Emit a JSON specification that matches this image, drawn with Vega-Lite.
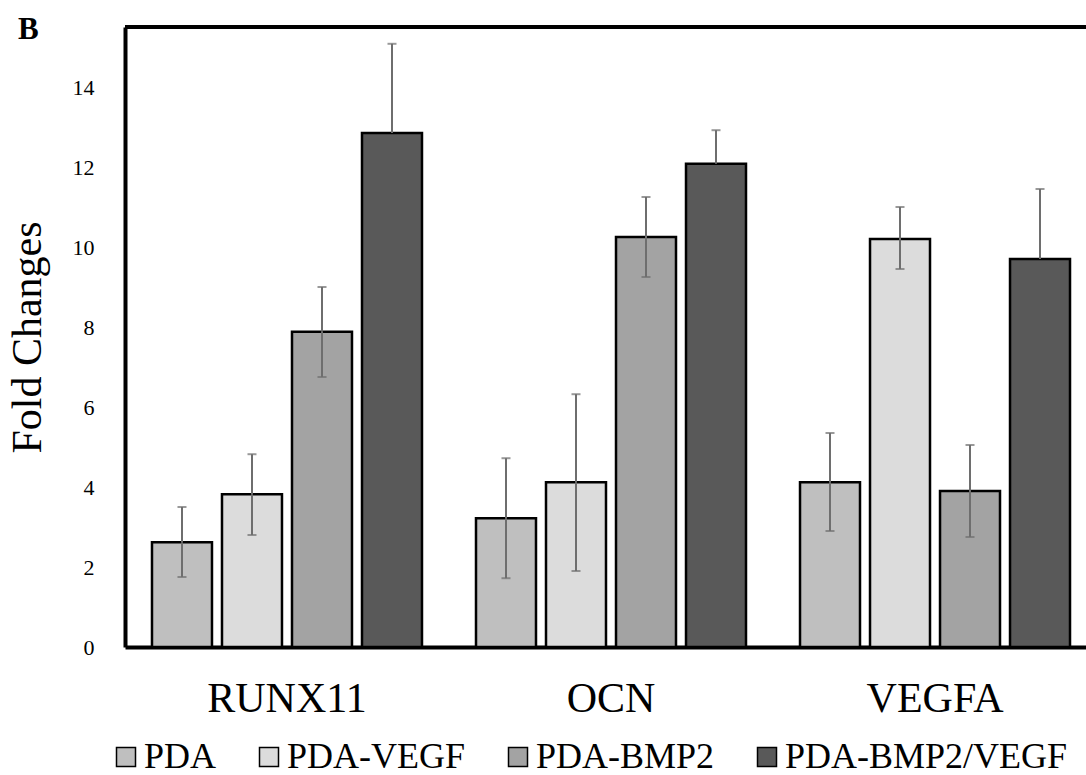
{
  "$schema": "https://vega.github.io/schema/vega-lite/v6.json",
  "width": 961,
  "height": 620,
  "autosize": {"type": "none"},
  "padding": {"left": 125, "top": 27, "right": 0, "bottom": 128},
  "background": "white",
  "title": {"text": "B", "anchor": "start", "frame": "group", "dx": -107, "dy": 45, "offset": 0, "baseline": "alphabetic", "font": "Liberation Serif", "fontSize": 31, "fontWeight": "bold", "color": "black"},
  "config": {
    "view": {"stroke": null},
    "font": "Liberation Serif"
  },
  "data": {"values": [
    {"gene": "RUNX11", "series": "PDA", "value": 2.62, "hi": 3.5, "lo": 1.75},
    {"gene": "RUNX11", "series": "PDA-VEGF", "value": 3.82, "hi": 4.82, "lo": 2.8},
    {"gene": "RUNX11", "series": "PDA-BMP2", "value": 7.88, "hi": 9.0, "lo": 6.75},
    {"gene": "RUNX11", "series": "PDA-BMP2/VEGF", "value": 12.85, "hi": 15.08, "lo": null},
    {"gene": "OCN", "series": "PDA", "value": 3.22, "hi": 4.72, "lo": 1.72},
    {"gene": "OCN", "series": "PDA-VEGF", "value": 4.12, "hi": 6.32, "lo": 1.9},
    {"gene": "OCN", "series": "PDA-BMP2", "value": 10.25, "hi": 11.25, "lo": 9.25},
    {"gene": "OCN", "series": "PDA-BMP2/VEGF", "value": 12.08, "hi": 12.92, "lo": null},
    {"gene": "VEGFA", "series": "PDA", "value": 4.12, "hi": 5.35, "lo": 2.9},
    {"gene": "VEGFA", "series": "PDA-VEGF", "value": 10.2, "hi": 11.0, "lo": 9.45},
    {"gene": "VEGFA", "series": "PDA-BMP2", "value": 3.9, "hi": 5.05, "lo": 2.75},
    {"gene": "VEGFA", "series": "PDA-BMP2/VEGF", "value": 9.7, "hi": 11.45, "lo": null}
  ]},
  "encoding": {
    "x": {"field": "gene", "type": "nominal", "sort": ["RUNX11", "OCN", "VEGFA"],
      "scale": {"range": [0, 972], "paddingInner": 0.1667, "paddingOuter": 0.0833},
      "axis": {"title": null, "labelAngle": 0, "ticks": false, "domainColor": "black", "domainWidth": 4,
        "labelFont": "Liberation Serif", "labelFontSize": 42, "labelColor": "black", "labelBaseline": "alphabetic", "labelPadding": 64}},
    "xOffset": {"field": "series", "type": "nominal", "sort": ["PDA", "PDA-VEGF", "PDA-BMP2", "PDA-BMP2/VEGF"],
      "scale": {"paddingInner": 0.143, "paddingOuter": 0}}
  },
  "layer": [
    {
      "mark": {"type": "bar", "stroke": "black", "strokeWidth": 2.5},
      "encoding": {
        "y": {"field": "value", "type": "quantitative",
          "scale": {"domain": [0, 15.5], "nice": false, "zero": true},
          "axis": {"title": "Fold Changes", "values": [0, 2, 4, 6, 8, 10, 12, 14], "grid": false, "ticks": false,
            "domainColor": "black", "domainWidth": 4, "labelFont": "Liberation Serif", "labelFontSize": 22, "labelColor": "black", "labelPadding": 31,
            "titleFont": "Liberation Serif", "titleFontSize": 42, "titleFontWeight": "normal", "titleColor": "black",
            "titleAngle": -90, "titleBaseline": "alphabetic", "titleAlign": "center", "titleX": -85, "titleY": 310}},
        "color": {"field": "series", "type": "nominal", "sort": ["PDA", "PDA-VEGF", "PDA-BMP2", "PDA-BMP2/VEGF"],
          "scale": {"domain": ["PDA", "PDA-VEGF", "PDA-BMP2", "PDA-BMP2/VEGF"], "range": ["#bfbfbf", "#dcdcdc", "#a3a3a3", "#595959"]},
          "legend": {"title": null, "orient": "none", "direction": "horizontal", "legendX": -17, "legendY": 712, "padding": 0,
            "symbolType": "square", "symbolSize": 361, "symbolStrokeColor": "black", "symbolStrokeWidth": 1.5, "symbolOpacity": 1,
            "labelFont": "Liberation Serif", "labelFontSize": 36, "labelColor": "black", "labelOffset": 0, "labelLimit": 500, "columnPadding": 34}}
      }
    },
    {
      "mark": {"type": "rule", "color": "#6e6e6e", "strokeWidth": 2},
      "encoding": {"y": {"field": "value", "type": "quantitative"}, "y2": {"field": "hi"}}
    },
    {
      "transform": [{"filter": "isValid(datum.lo)"}],
      "mark": {"type": "rule", "color": "#6e6e6e", "strokeWidth": 2},
      "encoding": {"y": {"field": "lo", "type": "quantitative"}, "y2": {"field": "value"}}
    },
    {
      "mark": {"type": "tick", "color": "#6e6e6e", "thickness": 2, "size": 9, "orient": "horizontal"},
      "encoding": {"y": {"field": "hi", "type": "quantitative"}}
    },
    {
      "transform": [{"filter": "isValid(datum.lo)"}],
      "mark": {"type": "tick", "color": "#6e6e6e", "thickness": 2, "size": 9, "orient": "horizontal"},
      "encoding": {"y": {"field": "lo", "type": "quantitative"}}
    },
    {
      "data": {"values": [{"top": 15.5}]},
      "mark": {"type": "rule", "color": "black", "strokeWidth": 4},
      "encoding": {"y": {"field": "top", "type": "quantitative"}, "x": null, "xOffset": null}
    }
  ]
}
